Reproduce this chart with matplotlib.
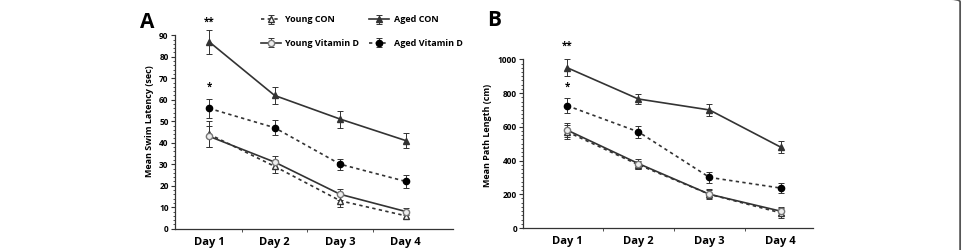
import matplotlib
matplotlib.use("Agg")
import matplotlib.pyplot as plt
from matplotlib.patches import FancyBboxPatch
from matplotlib.ticker import FixedLocator

plt.rcParams["font.family"] = ["Open Sans", "DejaVu Sans"]

days = ["Day 1", "Day 2", "Day 3", "Day 4"]
x = [1, 2, 3, 4]

# Panel A - swim latency (sec)
lat_young_con = [44, 29, 13, 6]
lat_young_con_err = [6, 3, 3, 1.5]
lat_aged_con = [87, 62, 51, 41]
lat_aged_con_err = [5.5, 4, 4, 3.5]
lat_young_vitd = [43, 31, 16, 8]
lat_young_vitd_err = [5, 3, 2.5, 1.5]
lat_aged_vitd = [56, 47, 30, 22]
lat_aged_vitd_err = [4.5, 3.5, 2.5, 3]

# Panel B - path length (cm)
path_young_con = [570, 375, 200, 90]
path_young_con_err = [40, 25, 30, 30]
path_aged_con = [950, 765, 700, 480]
path_aged_con_err = [50, 30, 35, 35]
path_young_vitd = [580, 382, 200, 100]
path_young_vitd_err = [40, 30, 25, 25]
path_aged_vitd = [725, 570, 300, 237]
path_aged_vitd_err = [45, 35, 35, 30]

line_col = "#333333"


def draw_panel(ax, yc, yce, ac, ace, yv, yve, av, ave):
    common = dict(color=line_col, capsize=2.5, elinewidth=0.7, capthick=0.7, lw=1.2)
    h = {}
    h["Young CON"] = ax.errorbar(x, yc, yerr=yce, ls=(0, (2, 2)), marker="^", ms=4,
                                 mfc="white", mec=line_col, **common)
    h["Aged CON"] = ax.errorbar(x, ac, yerr=ace, ls="-", marker="^", ms=4,
                                mfc=line_col, mec=line_col, **common)
    h["Young Vitamin D"] = ax.errorbar(x, yv, yerr=yve, ls="-", marker="o", ms=4.5,
                                       mfc="#eeeeee", mec="#777777", **common)
    h["Aged Vitamin D"] = ax.errorbar(x, av, yerr=ave, ls=(0, (2, 2)), marker="o", ms=4.5,
                                      mfc="black", mec="black", **common)
    for s in ["top", "right"]:
        ax.spines[s].set_visible(False)
    for s in ["left", "bottom"]:
        ax.spines[s].set_color(line_col)
        ax.spines[s].set_linewidth(0.9)
    ax.set_xticks(x)
    ax.set_xticklabels(days, fontsize=8, fontweight="bold")
    ax.set_xticks([1.5, 2.5, 3.5], minor=True)
    ax.tick_params(axis="x", which="major", length=0, pad=6)
    ax.tick_params(axis="x", which="minor", length=2.5, color=line_col)
    ax.tick_params(axis="y", which="major", length=3, labelsize=6, color=line_col, pad=1.5)
    ax.tick_params(axis="y", which="minor", length=1.5, color=line_col)
    for t in ax.get_yticklabels():
        t.set_fontweight("bold")
    return h


fig = plt.figure(figsize=(9.63, 2.5), dpi=100)

# rounded frame of the source figure
frame = FancyBboxPatch((-0.01, -0.1), 1.007, 1.104, transform=fig.transFigure,
                       boxstyle="round,pad=0,rounding_size=0.012", fc="none",
                       ec="#555555", lw=1.3, clip_on=False)
fig.patches.append(frame)

axA = fig.add_axes([0.1817, 0.0852, 0.2887, 0.8596])
hA = draw_panel(axA, lat_young_con, lat_young_con_err, lat_aged_con, lat_aged_con_err,
                lat_young_vitd, lat_young_vitd_err, lat_aged_vitd, lat_aged_vitd_err)
axA.set_xlim(0.48, 4.72)
axA.set_ylim(0, 100)
axA.spines["left"].set_bounds(0, 90)
axA.set_yticks(range(0, 91, 10))
axA.yaxis.set_minor_locator(FixedLocator(range(0, 91, 2)))
axA.set_ylabel("Mean Swim Latency (sec)", fontsize=6.5, fontweight="bold", labelpad=4)
axA.text(1, 96, "**", ha="center", va="center", fontsize=7, fontweight="bold")
axA.text(1, 66, "*", ha="center", va="center", fontsize=7, fontweight="bold")
order = ["Young CON", "Young Vitamin D", "Aged CON", "Aged Vitamin D"]
axA.legend([hA[k] for k in order], order, ncol=2, loc="upper left",
           bbox_to_anchor=(0.28, 1.03), frameon=False,
           prop={"weight": "bold", "size": 6.5}, handlelength=2.2,
           columnspacing=1.1, handletextpad=0.5, labelspacing=1.6)

axB = fig.add_axes([0.5434, 0.088, 0.3011, 0.742])
draw_panel(axB, path_young_con, path_young_con_err, path_aged_con, path_aged_con_err,
           path_young_vitd, path_young_vitd_err, path_aged_vitd, path_aged_vitd_err)
axB.set_xlim(0.38, 4.46)
axB.set_ylim(0, 1100)
axB.spines["left"].set_bounds(0, 1000)
axB.set_yticks(range(0, 1001, 200))
axB.yaxis.set_minor_locator(FixedLocator(range(0, 1001, 25)))
axB.set_ylabel("Mean Path Length (cm)", fontsize=6.5, fontweight="bold", labelpad=4)
axB.text(1, 1075, "**", ha="center", va="center", fontsize=7, fontweight="bold")
axB.text(1, 835, "*", ha="center", va="center", fontsize=7, fontweight="bold")

fig.text(140 / 963, 1 - 22 / 250, "A", fontsize=15, fontweight="bold", va="center")
fig.text(487 / 963, 1 - 21 / 250, "B", fontsize=15, fontweight="bold", va="center")

fig.savefig("out.png", dpi=100)
